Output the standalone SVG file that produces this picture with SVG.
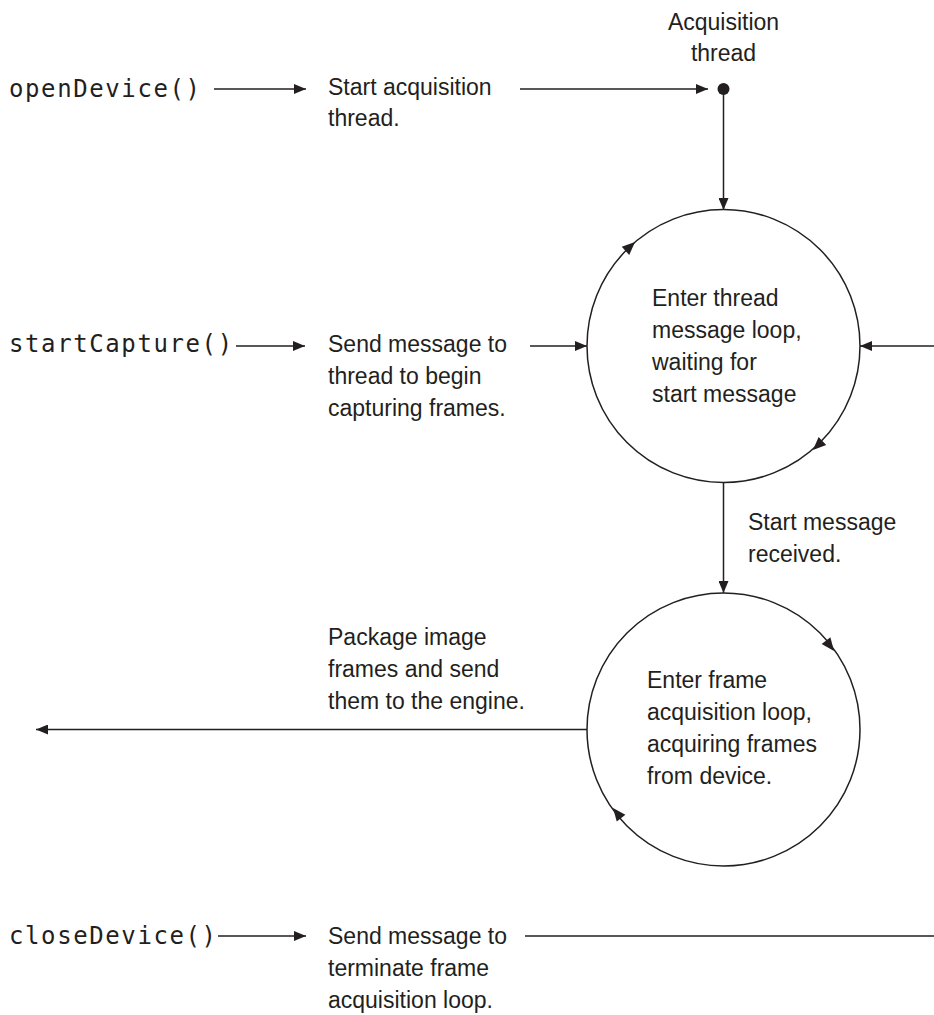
<svg xmlns="http://www.w3.org/2000/svg" width="934" height="1015" viewBox="0 0 934 1015">
<style>
  .t { font-family: "Liberation Sans", Arial, sans-serif; font-size: 23px; fill: #231f20; }
  .m { font-family: "DejaVu Sans Mono", "Liberation Mono", monospace; font-size: 24px; fill: #231f20; letter-spacing: 1.6px; }
  .ln { stroke: #231f20; stroke-width: 1.5; fill: none; }
  .c { stroke: #231f20; stroke-width: 1.5; fill: #ffffff; }
  .ah { fill: #231f20; }
</style>
<defs>
  <marker id="arr" viewBox="0 0 12 10" refX="12" refY="5" markerWidth="12" markerHeight="10" markerUnits="userSpaceOnUse" orient="auto">
    <path d="M0,0 L12,5 L0,10 z" fill="#231f20"/>
  </marker>
  <polygon id="head" points="0,0 -13,-5.5 -13,5.5"/>
</defs>
<rect width="934" height="1015" fill="#ffffff"/>

<g id="connectors">
  <line class="ln" x1="214" y1="89" x2="306" y2="89" marker-end="url(#arr)"/>
  <line class="ln" x1="520" y1="89" x2="708" y2="89" marker-end="url(#arr)"/>
  <line class="ln" x1="723.5" y1="89" x2="723.5" y2="210" marker-end="url(#arr)"/>
  <line class="ln" x1="236" y1="346" x2="305" y2="346" marker-end="url(#arr)"/>
  <line class="ln" x1="530" y1="346" x2="587" y2="346" marker-end="url(#arr)"/>
  <line class="ln" x1="934" y1="346" x2="860" y2="346" marker-end="url(#arr)"/>
  <line class="ln" x1="723.5" y1="482.5" x2="723.5" y2="593" marker-end="url(#arr)"/>
  <line class="ln" x1="587" y1="729.5" x2="36" y2="729.5" marker-end="url(#arr)"/>
  <line class="ln" x1="218" y1="936" x2="306" y2="936" marker-end="url(#arr)"/>
  <line class="ln" x1="525" y1="936" x2="934" y2="936"/>
</g>

<g id="acq-thread">
  <circle cx="723.5" cy="89" r="6" fill="#231f20"/>
  <text class="t" x="723.5" y="30" text-anchor="middle">Acquisition</text>
  <text class="t" x="723.5" y="61" text-anchor="middle">thread</text>
</g>

<g id="opendevice">
  <text class="m" x="9" y="97">openDevice()</text>
</g>
<g id="start-thread">
  <text class="t" x="328" y="95">Start acquisition</text>
  <text class="t" x="328" y="126">thread.</text>
</g>

<g id="startcapture">
  <text class="m" x="9" y="352">startCapture()</text>
</g>
<g id="send-begin">
  <text class="t" x="328" y="352">Send message to</text>
  <text class="t" x="328" y="384">thread to begin</text>
  <text class="t" x="328" y="416">capturing frames.</text>
</g>

<g id="message-loop">
  <circle class="c" cx="723.5" cy="346" r="136.5"/>
  <use href="#head" class="ah" transform="translate(635,242) rotate(-43)"/>
  <use href="#head" class="ah" transform="translate(813,450) rotate(136.3)"/>
  <text class="t" x="652" y="306">Enter thread</text>
  <text class="t" x="652" y="338">message loop,</text>
  <text class="t" x="652" y="370">waiting for</text>
  <text class="t" x="652" y="402">start message</text>
</g>

<g id="start-received">
  <text class="t" x="748" y="530">Start message</text>
  <text class="t" x="748" y="562">received.</text>
</g>

<g id="frame-loop">
  <circle class="c" cx="723.5" cy="729.5" r="136.5"/>
  <use href="#head" class="ah" transform="translate(834,651) rotate(52.2)"/>
  <use href="#head" class="ah" transform="translate(613,808) rotate(-128.4)"/>
  <text class="t" x="647" y="688">Enter frame</text>
  <text class="t" x="647" y="720">acquisition loop,</text>
  <text class="t" x="647" y="752">acquiring frames</text>
  <text class="t" x="647" y="784">from device.</text>
</g>

<g id="package">
  <text class="t" x="328" y="645">Package image</text>
  <text class="t" x="328" y="677">frames and send</text>
  <text class="t" x="328" y="709">them to the engine.</text>
</g>

<g id="closedevice">
  <text class="m" x="9" y="944">closeDevice()</text>
</g>
<g id="send-terminate">
  <text class="t" x="328" y="944">Send message to</text>
  <text class="t" x="328" y="976">terminate frame</text>
  <text class="t" x="328" y="1008">acquisition loop.</text>
</g>
</svg>
